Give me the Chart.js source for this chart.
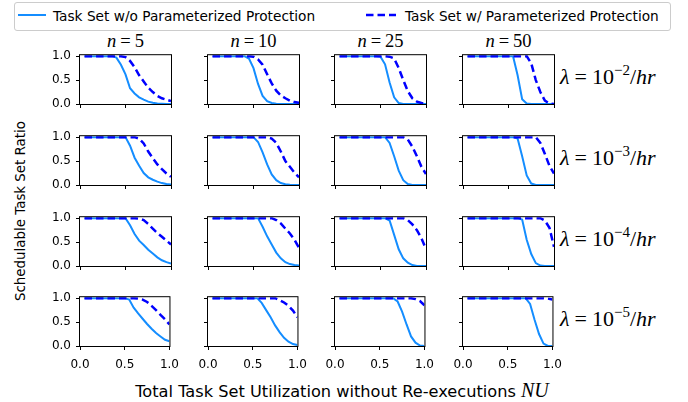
<!DOCTYPE html>
<html>
<head>
<meta charset="utf-8">
<script src="https://cdn.jsdelivr.net/npm/chart.js@4.4.0/dist/chart.umd.min.js"></script>
<style>
  html, body { margin: 0; padding: 0; background: #fff; }
  #fig { position: relative; width: 688px; height: 402px; overflow: hidden; font-family: 'DejaVu Sans', sans-serif; color: #000; }
  #fig canvas { position: absolute; }
  .abs { position: absolute; white-space: nowrap; }
  .legend { left: 14px; top: 2px; width: 655px; height: 27px; border: 1px solid #ccc; border-radius: 3px; }
  .lt { font-size: 13.7px; line-height: 28px; top: 2px; }
  .math { font-family: 'Liberation Serif', serif; }
  .math i { font-style: italic; }
  .math .eq { margin: 0 4px; }
  .title { font-size: 18.5px; transform: translateX(-50%); top: 31px; }
  .lam { font-size: 22px; left: 560px; transform: translateY(-50%); }
  .lam .eq { margin: 0 5px; }
  .lam sup { font-size: 15px; vertical-align: 9px; line-height: 0; }
</style>
</head>
<body>
<div id="fig">
  <div class="abs legend"></div>
  <svg class="abs" style="left:18px;top:12px" width="28" height="6"><line x1="0" y1="3" x2="28" y2="3" stroke="#148dff" stroke-width="2"/></svg>
  <span class="abs lt" style="left:53px">Task Set w/o Parameterized Protection</span>
  <svg class="abs" style="left:366px;top:12px" width="30" height="6"><line x1="0" y1="3" x2="30" y2="3" stroke="#0000ff" stroke-width="2.5" stroke-dasharray="7.5 4"/></svg>
  <span class="abs lt" style="left:405px">Task Set w/ Parameterized Protection</span>
  <div id="labels"></div>
  <div class="abs" style="left:20px;top:211px;font-size:13.4px;transform:translate(-50%,-50%) rotate(-90deg)">Schedulable Task Set Ratio</div>
  <div class="abs" style="left:342px;top:390px;font-size:16.2px;transform:translate(-50%,-50%)">Total Task Set Utilization without Re-executions <span class="math" style="font-size:20px"><i>NU</i></span></div>
</div>
<script>
// utilisation sample points (shared by every panel)
const X_VALUES = [0.05, 0.1, 0.15, 0.2, 0.25, 0.3, 0.35, 0.4, 0.45, 0.5, 0.55, 0.6, 0.65, 0.7, 0.75, 0.8, 0.85, 0.9, 0.95, 1.0];
const N_LABELS = ['5', '10', '25', '50'];
const LAMBDA_EXP = ['\u22122', '\u22123', '\u22124', '\u22125'];
const X_TICKS = [0, 0.5, 1];
const Y_TICKS = [0, 0.5, 1];

// without parameterized protection, one row per n
const WO_L2 = [
  [1, 1, 1, 1, 1, 1, 1, 0.97, 0.82, 0.62, 0.33, 0.22, 0.14, 0.09, 0.05, 0.025, 0.01, 0.005, 0, 0],
  [1, 1, 1, 1, 1, 1, 1, 1, 0.95, 0.75, 0.42, 0.17, 0.06, 0.02, 0.005, 0, 0, 0, 0, 0],
  [1, 1, 1, 1, 1, 1, 1, 1, 1, 0.99, 0.83, 0.45, 0.14, 0.02, 0, 0, 0, 0, 0, 0],
  [1, 1, 1, 1, 1, 1, 1, 1, 1, 1, 1, 0.6, 0.1, 0.01, 0, 0, 0, 0, 0, 0],
];
const WO_L3 = [
  [1, 1, 1, 1, 1, 1, 1, 1, 1, 1, 0.82, 0.57, 0.4, 0.25, 0.16, 0.11, 0.07, 0.04, 0.02, 0.01],
  [1, 1, 1, 1, 1, 1, 1, 1, 1, 1, 0.9, 0.68, 0.43, 0.22, 0.1, 0.04, 0.015, 0.005, 0, 0],
  [1, 1, 1, 1, 1, 1, 1, 1, 1, 1, 1, 0.88, 0.6, 0.3, 0.1, 0.02, 0, 0, 0, 0],
  [1, 1, 1, 1, 1, 1, 1, 1, 1, 1, 1, 0.97, 0.6, 0.2, 0.03, 0, 0, 0, 0, 0],
];
const WO_L4 = [
  [1, 1, 1, 1, 1, 1, 1, 1, 1, 1, 0.85, 0.67, 0.53, 0.44, 0.34, 0.26, 0.18, 0.12, 0.08, 0.05],
  [1, 1, 1, 1, 1, 1, 1, 1, 1, 1, 1, 0.82, 0.62, 0.45, 0.28, 0.16, 0.08, 0.04, 0.02, 0.01],
  [1, 1, 1, 1, 1, 1, 1, 1, 1, 1, 1, 0.95, 0.65, 0.35, 0.16, 0.07, 0.02, 0, 0, 0],
  [1, 1, 1, 1, 1, 1, 1, 1, 1, 1, 1, 1, 0.97, 0.55, 0.25, 0.06, 0.01, 0, 0, 0],
];
const WO_L5 = [
  [1, 1, 1, 1, 1, 1, 1, 1, 1, 1, 0.97, 0.8, 0.68, 0.57, 0.46, 0.36, 0.27, 0.2, 0.13, 0.1],
  [1, 1, 1, 1, 1, 1, 1, 1, 1, 1, 1, 0.9, 0.75, 0.6, 0.43, 0.29, 0.17, 0.09, 0.04, 0.02],
  [1, 1, 1, 1, 1, 1, 1, 1, 1, 1, 1, 1, 1, 0.93, 0.72, 0.45, 0.2, 0.07, 0.01, 0],
  [1, 1, 1, 1, 1, 1, 1, 1, 1, 1, 1, 1, 1, 1, 0.88, 0.55, 0.25, 0.05, 0, 0],
];

// with parameterized protection
const W_L2 = [
  [1, 1, 1, 1, 1, 1, 1, 1, 1, 0.98, 0.9, 0.77, 0.6, 0.47, 0.34, 0.25, 0.17, 0.12, 0.09, 0.06],
  [1, 1, 1, 1, 1, 1, 1, 1, 1, 0.99, 0.93, 0.82, 0.62, 0.43, 0.28, 0.18, 0.12, 0.07, 0.04, 0.025],
  [1, 1, 1, 1, 1, 1, 1, 1, 1, 1, 1, 0.99, 0.95, 0.75, 0.5, 0.27, 0.12, 0.05, 0.02, 0.005],
  [1, 1, 1, 1, 1, 1, 1, 1, 1, 1, 1, 1, 1, 1, 0.85, 0.5, 0.25, 0.07, 0.01, 0],
];
const W_L3 = [
  [1, 1, 1, 1, 1, 1, 1, 1, 1, 1, 1, 1, 0.97, 0.87, 0.7, 0.56, 0.43, 0.33, 0.24, 0.17],
  [1, 1, 1, 1, 1, 1, 1, 1, 1, 1, 1, 1, 1, 0.97, 0.88, 0.7, 0.5, 0.38, 0.26, 0.16],
  [1, 1, 1, 1, 1, 1, 1, 1, 1, 1, 1, 1, 1, 1, 1, 0.95, 0.8, 0.6, 0.38, 0.23],
  [1, 1, 1, 1, 1, 1, 1, 1, 1, 1, 1, 1, 1, 1, 1, 1, 0.88, 0.65, 0.4, 0.24],
];
const W_L4 = [
  [1, 1, 1, 1, 1, 1, 1, 1, 1, 1, 1, 1, 0.99, 0.96, 0.88, 0.78, 0.69, 0.61, 0.53, 0.45],
  [1, 1, 1, 1, 1, 1, 1, 1, 1, 1, 1, 1, 1, 1, 0.96, 0.89, 0.78, 0.68, 0.55, 0.38],
  [1, 1, 1, 1, 1, 1, 1, 1, 1, 1, 1, 1, 1, 1, 1, 0.96, 0.87, 0.75, 0.58, 0.35],
  [1, 1, 1, 1, 1, 1, 1, 1, 1, 1, 1, 1, 1, 1, 1, 1, 1, 0.95, 0.8, 0.4],
];
const W_L5 = [
  [1, 1, 1, 1, 1, 1, 1, 1, 1, 1, 1, 1, 0.99, 0.97, 0.92, 0.84, 0.75, 0.65, 0.56, 0.45],
  [1, 1, 1, 1, 1, 1, 1, 1, 1, 1, 1, 1, 1, 1, 1, 0.96, 0.91, 0.84, 0.74, 0.6],
  [1, 1, 1, 1, 1, 1, 1, 1, 1, 1, 1, 1, 1, 1, 1, 1, 1, 0.98, 0.94, 0.85],
  [1, 1, 1, 1, 1, 1, 1, 1, 1, 1, 1, 1, 1, 1, 1, 1, 1, 1, 0.99, 0.97],
];

const WITHOUT = [WO_L2, WO_L3, WO_L4, WO_L5];
const WITH = [W_L2, W_L3, W_L4, W_L5];

const SOLID = '#148dff';
const DASHED = '#0000ff';
const TICK_FONT = { family: "'DejaVu Sans', sans-serif", size: 12 };

// panel geometry (plot area of each subplot)
const COL_LEFT = [80, 208, 335, 463];
const ROW_TOP = [53, 134, 215, 295];
const PW = 91, PH = 51;
const M = { left: 40, top: 10, right: 16, bottom: 28 };

const frame = {
  id: 'frame',
  afterDraw(chart) {
    const { ctx, chartArea: a } = chart;
    ctx.save();
    ctx.strokeStyle = '#000';
    ctx.lineWidth = 1;
    ctx.strokeRect(a.left - 0.5, a.top - 0.5, a.right - a.left + 1, a.bottom - a.top + 1);
    ctx.restore();
  },
};

const fig = document.getElementById('fig');
const labels = document.getElementById('labels');

function pts(ys) {
  return X_VALUES.map((x, i) => ({ x, y: ys[i] }));
}

function panel(r, c) {
  const cv = document.createElement('canvas');
  cv.width = M.left + PW + M.right;
  cv.height = M.top + PH + M.bottom;
  cv.style.left = (COL_LEFT[c] - M.left) + 'px';
  cv.style.top = (ROW_TOP[r] - M.top) + 'px';
  fig.appendChild(cv);
  const showX = r === 3;
  const showY = c === 0;
  return new Chart(cv, {
    type: 'line',
    data: {
      datasets: [
        { data: pts(WITH[r][c]), borderColor: DASHED, borderWidth: 2.5, borderDash: [7.5, 4], order: 0 },
        { data: pts(WITHOUT[r][c]), borderColor: SOLID, borderWidth: 2, order: 1 },
      ],
    },
    options: {
      responsive: false,
      animation: false,
      devicePixelRatio: 1,
      layout: { padding: { left: 0, top: M.top, right: M.right, bottom: 0 } },
      elements: { point: { radius: 0 }, line: { tension: 0, fill: false } },
      plugins: { legend: { display: false }, tooltip: { enabled: false } },
      scales: {
        x: {
          type: 'linear', min: 0, max: 1,
          afterBuildTicks: (s) => { s.ticks = X_TICKS.map((v) => ({ value: v })); },
          afterFit: (s) => { s.height = M.bottom; },
          grid: { drawOnChartArea: false, drawTicks: true, tickLength: 4, color: '#000' },
          border: { display: false },
          ticks: { color: '#000', font: TICK_FONT, padding: 8, maxRotation: 0,
            callback: (v) => (showX ? v.toFixed(1) : '') },
        },
        y: {
          type: 'linear', min: 0, max: 1.02,
          afterBuildTicks: (s) => { s.ticks = Y_TICKS.map((v) => ({ value: v })); },
          afterFit: (s) => { s.width = M.left; },
          grid: { drawOnChartArea: false, drawTicks: true, tickLength: 4, color: '#000' },
          border: { display: false },
          ticks: { color: '#000', font: TICK_FONT, padding: 5,
            callback: (v) => (showY ? v.toFixed(1) : '') },
        },
      },
    },
    plugins: [frame],
  });
}

for (let r = 0; r < 4; r++) {
  for (let c = 0; c < 4; c++) panel(r, c);
}

N_LABELS.forEach((n, c) => {
  const el = document.createElement('div');
  el.className = 'abs math title';
  el.style.left = (COL_LEFT[c] + PW / 2) + 'px';
  el.innerHTML = '<i>n</i><span class="eq">=</span>' + n;
  labels.appendChild(el);
});

LAMBDA_EXP.forEach((e, r) => {
  const el = document.createElement('div');
  el.className = 'abs math lam';
  el.style.top = (ROW_TOP[r] + PH / 2 - 2) + 'px';
  el.innerHTML = '<i>\u03bb</i><span class="eq">=</span>10<sup>' + e + '</sup>/<i>hr</i>';
  labels.appendChild(el);
});
</script>
</body>
</html>
